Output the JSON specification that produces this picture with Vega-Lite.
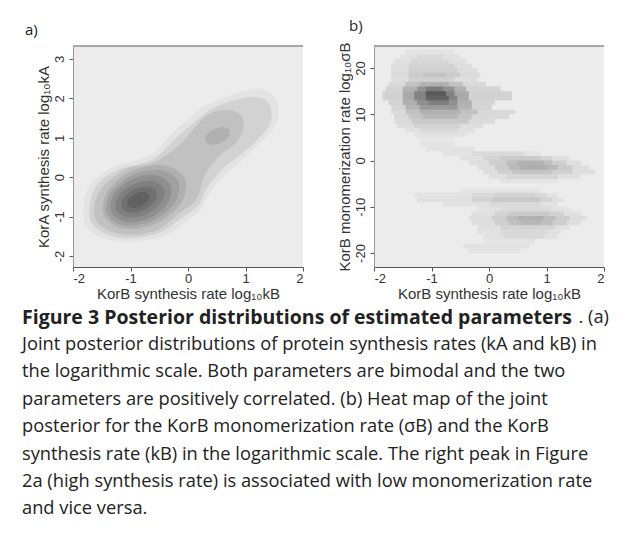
{
  "$schema": "https://vega.github.io/schema/vega-lite/v6.json",
  "padding": {"left": 22, "top": 19, "right": 5, "bottom": 5},
  "background": "white",
  "config": {
    "view": {"fill": "#ececec", "stroke": null},
    "font": "Liberation Sans",
    "axis": {"labelFont": "Liberation Sans", "titleFont": "Liberation Sans", "labelFontSize": 13, "titleFontSize": 15, "labelColor": "#333333", "titleColor": "#333333", "tickColor": "#555555", "domain": true, "domainColor": "#555555", "grid": false, "tickSize": 4, "labelPadding": 1, "titleFontWeight": "normal", "titlePadding": 1, "labelExpr": "'' + datum.value"},
    "axisY": {"labelAngle": -90, "labelPadding": 3, "domainColor": "#999999", "titlePadding": 2},
    "title": {"font": "Open Sans", "fontSize": 15, "fontWeight": "normal", "anchor": "start", "color": "#222222", "frame": "group", "baseline": "alphabetic", "offset": 8}
  },
  "datasets": {
    "contours": [
      {"p":"L1","lev":1,"o":1,"x":-0.517,"y":-1.543},{"p":"L1","lev":1,"o":2,"x":-1.284,"y":-1.619},{"p":"L1","lev":1,"o":3,"x":-1.791,"y":-1.213},{"p":"L1","lev":1,"o":4,"x":-1.738,"y":-0.299},{"p":"L1","lev":1,"o":5,"x":-1.337,"y":0.234},{"p":"L1","lev":1,"o":6,"x":-0.656,"y":0.563},{"p":"L1","lev":1,"o":7,"x":-0.255,"y":1.147},{"p":"L1","lev":1,"o":8,"x":0.269,"y":1.782},{"p":"L1","lev":1,"o":9,"x":0.792,"y":2.112},{"p":"L1","lev":1,"o":10,"x":1.264,"y":2.239},{"p":"L1","lev":1,"o":11,"x":1.543,"y":1.909},{"p":"L1","lev":1,"o":12,"x":1.525,"y":1.325},{"p":"L1","lev":1,"o":13,"x":1.141,"y":0.716},{"p":"L1","lev":1,"o":14,"x":0.67,"y":0.081},{"p":"L1","lev":1,"o":15,"x":0.391,"y":-0.376},{"p":"L1","lev":1,"o":16,"x":0.216,"y":-0.832},{"p":"L1","lev":1,"o":17,"x":-0.08,"y":-1.188},
      {"p":"L2","lev":2,"o":1,"x":-0.551,"y":-1.442},{"p":"L2","lev":2,"o":2,"x":-1.232,"y":-1.53},{"p":"L2","lev":2,"o":3,"x":-1.686,"y":-1.137},{"p":"L2","lev":2,"o":4,"x":-1.634,"y":-0.325},{"p":"L2","lev":2,"o":5,"x":-1.267,"y":0.157},{"p":"L2","lev":2,"o":6,"x":-0.604,"y":0.462},{"p":"L2","lev":2,"o":7,"x":-0.133,"y":1.096},{"p":"L2","lev":2,"o":8,"x":0.391,"y":1.706},{"p":"L2","lev":2,"o":9,"x":0.88,"y":1.985},{"p":"L2","lev":2,"o":10,"x":1.264,"y":2.01},{"p":"L2","lev":2,"o":11,"x":1.438,"y":1.756},{"p":"L2","lev":2,"o":12,"x":1.403,"y":1.299},{"p":"L2","lev":2,"o":13,"x":1.054,"y":0.741},{"p":"L2","lev":2,"o":14,"x":0.618,"y":0.234},{"p":"L2","lev":2,"o":15,"x":0.339,"y":-0.249},{"p":"L2","lev":2,"o":16,"x":0.182,"y":-0.706},{"p":"L2","lev":2,"o":17,"x":-0.133,"y":-1.061},
      {"p":"L3","lev":3,"o":1,"x":-0.569,"y":-1.365},{"p":"L3","lev":3,"o":2,"x":-1.18,"y":-1.442},{"p":"L3","lev":3,"o":3,"x":-1.599,"y":-1.086},{"p":"L3","lev":3,"o":4,"x":-1.546,"y":-0.376},{"p":"L3","lev":3,"o":5,"x":-1.075,"y":0.208},{"p":"L3","lev":3,"o":6,"x":-0.569,"y":0.386},{"p":"L3","lev":3,"o":7,"x":-0.133,"y":0.843},{"p":"L3","lev":3,"o":8,"x":0.129,"y":1.274},{"p":"L3","lev":3,"o":9,"x":0.339,"y":1.579},{"p":"L3","lev":3,"o":10,"x":0.635,"y":1.706},{"p":"L3","lev":3,"o":11,"x":0.897,"y":1.604},{"p":"L3","lev":3,"o":12,"x":0.967,"y":1.274},{"p":"L3","lev":3,"o":13,"x":0.827,"y":0.868},{"p":"L3","lev":3,"o":14,"x":0.565,"y":0.563},{"p":"L3","lev":3,"o":15,"x":0.304,"y":0.081},{"p":"L3","lev":3,"o":16,"x":0.147,"y":-0.553},{"p":"L3","lev":3,"o":17,"x":-0.168,"y":-0.934},
      {"p":"L4a","lev":4,"o":1,"x":-0.058,"y":-0.029},{"p":"L4a","lev":4,"o":2,"x":-0.111,"y":-0.639},{"p":"L4a","lev":4,"o":3,"x":-0.543,"y":-1.168},{"p":"L4a","lev":4,"o":4,"x":-1.099,"y":-1.309},{"p":"L4a","lev":4,"o":5,"x":-1.454,"y":-0.977},{"p":"L4a","lev":4,"o":6,"x":-1.401,"y":-0.367},{"p":"L4a","lev":4,"o":7,"x":-0.969,"y":0.162},{"p":"L4a","lev":4,"o":8,"x":-0.413,"y":0.303},
      {"p":"L4b","lev":4,"o":1,"x":0.723,"y":1.189},{"p":"L4b","lev":4,"o":2,"x":0.702,"y":1.021},{"p":"L4b","lev":4,"o":3,"x":0.57,"y":0.868},{"p":"L4b","lev":4,"o":4,"x":0.404,"y":0.819},{"p":"L4b","lev":4,"o":5,"x":0.303,"y":0.903},{"p":"L4b","lev":4,"o":6,"x":0.324,"y":1.071},{"p":"L4b","lev":4,"o":7,"x":0.456,"y":1.224},{"p":"L4b","lev":4,"o":8,"x":0.622,"y":1.273},
      {"p":"L5","lev":5,"o":1,"x":-0.172,"y":-0.107},{"p":"L5","lev":5,"o":2,"x":-0.222,"y":-0.637},{"p":"L5","lev":5,"o":3,"x":-0.602,"y":-1.101},{"p":"L5","lev":5,"o":4,"x":-1.091,"y":-1.228},{"p":"L5","lev":5,"o":5,"x":-1.402,"y":-0.943},{"p":"L5","lev":5,"o":6,"x":-1.352,"y":-0.413},{"p":"L5","lev":5,"o":7,"x":-0.972,"y":0.051},{"p":"L5","lev":5,"o":8,"x":-0.483,"y":0.178},
      {"p":"L6","lev":6,"o":1,"x":-0.309,"y":-0.2},{"p":"L6","lev":6,"o":2,"x":-0.346,"y":-0.65},{"p":"L6","lev":6,"o":3,"x":-0.66,"y":-1.038},{"p":"L6","lev":6,"o":4,"x":-1.067,"y":-1.139},{"p":"L6","lev":6,"o":5,"x":-1.327,"y":-0.892},{"p":"L6","lev":6,"o":6,"x":-1.29,"y":-0.442},{"p":"L6","lev":6,"o":7,"x":-0.976,"y":-0.054},{"p":"L6","lev":6,"o":8,"x":-0.569,"y":0.047},
      {"p":"L7","lev":7,"o":1,"x":-0.42,"y":-0.276},{"p":"L7","lev":7,"o":2,"x":-0.456,"y":-0.624},{"p":"L7","lev":7,"o":3,"x":-0.714,"y":-0.932},{"p":"L7","lev":7,"o":4,"x":-1.042,"y":-1.022},{"p":"L7","lev":7,"o":5,"x":-1.248,"y":-0.838},{"p":"L7","lev":7,"o":6,"x":-1.212,"y":-0.49},{"p":"L7","lev":7,"o":7,"x":-0.955,"y":-0.182},{"p":"L7","lev":7,"o":8,"x":-0.626,"y":-0.092},
      {"p":"L8","lev":8,"o":1,"x":-0.55,"y":-0.365},{"p":"L8","lev":8,"o":2,"x":-0.577,"y":-0.614},{"p":"L8","lev":8,"o":3,"x":-0.764,"y":-0.837},{"p":"L8","lev":8,"o":4,"x":-1.001,"y":-0.902},{"p":"L8","lev":8,"o":5,"x":-1.15,"y":-0.773},{"p":"L8","lev":8,"o":6,"x":-1.123,"y":-0.524},{"p":"L8","lev":8,"o":7,"x":-0.936,"y":-0.301},{"p":"L8","lev":8,"o":8,"x":-0.699,"y":-0.236},
      {"p":"L9","lev":9,"o":1,"x":-0.681,"y":-0.453},{"p":"L9","lev":9,"o":2,"x":-0.699,"y":-0.602},{"p":"L9","lev":9,"o":3,"x":-0.815,"y":-0.738},{"p":"L9","lev":9,"o":4,"x":-0.961,"y":-0.78},{"p":"L9","lev":9,"o":5,"x":-1.051,"y":-0.705},{"p":"L9","lev":9,"o":6,"x":-1.033,"y":-0.556},{"p":"L9","lev":9,"o":7,"x":-0.917,"y":-0.42},{"p":"L9","lev":9,"o":8,"x":-0.771,"y":-0.378}
    ],
    "heat": [
      {"y1":23,"y2":24,"x1":-1.45,"x2":-0.6,"d":0.035},
      {"y1":22,"y2":23,"x1":-1.55,"x2":-0.5,"d":0.04},{"y1":22,"y2":23,"x1":-1.25,"x2":-0.8,"d":0.03},
      {"y1":21,"y2":22,"x1":-1.65,"x2":-0.4,"d":0.05},{"y1":21,"y2":22,"x1":-1.35,"x2":-0.7,"d":0.04},
      {"y1":20,"y2":21,"x1":-1.7,"x2":-0.3,"d":0.06},{"y1":20,"y2":21,"x1":-1.4,"x2":-0.6,"d":0.05},
      {"y1":19,"y2":20,"x1":-1.7,"x2":-0.2,"d":0.06},{"y1":19,"y2":20,"x1":-1.4,"x2":-0.55,"d":0.06},
      {"y1":18,"y2":19,"x1":-1.7,"x2":-0.15,"d":0.07},{"y1":18,"y2":19,"x1":-1.4,"x2":-0.5,"d":0.07},{"y1":18,"y2":19,"x1":-1.15,"x2":-0.75,"d":0.04},
      {"y1":17,"y2":18,"x1":-1.7,"x2":-0.2,"d":0.06},{"y1":17,"y2":18,"x1":-1.4,"x2":-0.6,"d":0.06},
      {"y1":16,"y2":17,"x1":-1.75,"x2":-0.05,"d":0.08},{"y1":16,"y2":17,"x1":-1.45,"x2":-0.45,"d":0.1},{"y1":16,"y2":17,"x1":-1.2,"x2":-0.7,"d":0.08},
      {"y1":15,"y2":16,"x1":-1.8,"x2":0.2,"d":0.1},{"y1":15,"y2":16,"x1":-1.5,"x2":-0.4,"d":0.16},{"y1":15,"y2":16,"x1":-1.25,"x2":-0.6,"d":0.18},{"y1":15,"y2":16,"x1":-1.1,"x2":-0.8,"d":0.15},
      {"y1":14,"y2":15,"x1":-1.85,"x2":0.4,"d":0.11},{"y1":14,"y2":15,"x1":-1.5,"x2":-0.35,"d":0.19},{"y1":14,"y2":15,"x1":-1.3,"x2":-0.6,"d":0.235},{"y1":14,"y2":15,"x1":-1.1,"x2":-0.75,"d":0.31},
      {"y1":13,"y2":14,"x1":-1.85,"x2":0.4,"d":0.11},{"y1":13,"y2":14,"x1":-1.5,"x2":-0.35,"d":0.19},{"y1":13,"y2":14,"x1":-1.3,"x2":-0.55,"d":0.22},{"y1":13,"y2":14,"x1":-1.1,"x2":-0.7,"d":0.25},
      {"y1":12,"y2":13,"x1":-1.75,"x2":0.1,"d":0.1},{"y1":12,"y2":13,"x1":-1.5,"x2":-0.3,"d":0.17},{"y1":12,"y2":13,"x1":-1.25,"x2":-0.55,"d":0.18},{"y1":12,"y2":13,"x1":-1.05,"x2":-0.7,"d":0.12},
      {"y1":11,"y2":12,"x1":-1.7,"x2":0.05,"d":0.1},{"y1":11,"y2":12,"x1":-1.45,"x2":-0.3,"d":0.15},{"y1":11,"y2":12,"x1":-1.2,"x2":-0.55,"d":0.15},
      {"y1":10,"y2":11,"x1":-1.7,"x2":0.45,"d":0.08},{"y1":10,"y2":11,"x1":-1.45,"x2":-0.2,"d":0.1},{"y1":10,"y2":11,"x1":-1.2,"x2":-0.5,"d":0.08},
      {"y1":9,"y2":10,"x1":-1.65,"x2":0.35,"d":0.08},{"y1":9,"y2":10,"x1":-1.4,"x2":-0.3,"d":0.09},{"y1":9,"y2":10,"x1":-1.15,"x2":-0.55,"d":0.06},
      {"y1":8,"y2":9,"x1":-1.65,"x2":0.1,"d":0.07},{"y1":8,"y2":9,"x1":-1.35,"x2":-0.35,"d":0.08},
      {"y1":7,"y2":8,"x1":-1.6,"x2":-0.1,"d":0.06},{"y1":7,"y2":8,"x1":-1.3,"x2":-0.5,"d":0.05},
      {"y1":6,"y2":7,"x1":-1.45,"x2":-0.25,"d":0.05},{"y1":6,"y2":7,"x1":-1.2,"x2":-0.55,"d":0.03},
      {"y1":5,"y2":6,"x1":-1.3,"x2":-0.4,"d":0.035},
      {"y1":4,"y2":5,"x1":-1.2,"x2":-0.6,"d":0.02},
      {"y1":3,"y2":4,"x1":-1.2,"x2":-0.6,"d":0.03},
      {"y1":2,"y2":3,"x1":-1.1,"x2":-0.25,"d":0.035},
      {"y1":1,"y2":2,"x1":-0.8,"x2":0.6,"d":0.04},{"y1":1,"y2":2,"x1":-0.3,"x2":0.9,"d":0.03},
      {"y1":0,"y2":1,"x1":-0.5,"x2":1.4,"d":0.05},{"y1":0,"y2":1,"x1":-0.1,"x2":1.1,"d":0.05},{"y1":0,"y2":1,"x1":0.2,"x2":0.9,"d":0.04},
      {"y1":-1,"y2":0,"x1":-0.35,"x2":1.6,"d":0.06},{"y1":-1,"y2":0,"x1":0.0,"x2":1.35,"d":0.07},{"y1":-1,"y2":0,"x1":0.3,"x2":1.1,"d":0.08},{"y1":-1,"y2":0,"x1":0.5,"x2":0.95,"d":0.06},
      {"y1":-2,"y2":-1,"x1":-0.2,"x2":1.75,"d":0.06},{"y1":-2,"y2":-1,"x1":0.1,"x2":1.45,"d":0.08},{"y1":-2,"y2":-1,"x1":0.35,"x2":1.2,"d":0.09},{"y1":-2,"y2":-1,"x1":0.55,"x2":1.0,"d":0.06},
      {"y1":-3,"y2":-2,"x1":-0.1,"x2":1.85,"d":0.06},{"y1":-3,"y2":-2,"x1":0.15,"x2":1.45,"d":0.06},{"y1":-3,"y2":-2,"x1":0.4,"x2":1.1,"d":0.05},
      {"y1":-4,"y2":-3,"x1":0.0,"x2":1.6,"d":0.05},{"y1":-4,"y2":-3,"x1":0.3,"x2":1.2,"d":0.04},
      {"y1":-5,"y2":-4,"x1":0.2,"x2":1.2,"d":0.03},
      {"y1":-7,"y2":-6,"x1":-0.5,"x2":0.9,"d":0.03},
      {"y1":-8,"y2":-7,"x1":-1.3,"x2":1.2,"d":0.04},{"y1":-8,"y2":-7,"x1":-0.3,"x2":1.0,"d":0.04},{"y1":-8,"y2":-7,"x1":0.1,"x2":0.8,"d":0.03},
      {"y1":-9,"y2":-8,"x1":-1.25,"x2":1.3,"d":0.05},{"y1":-9,"y2":-8,"x1":-0.3,"x2":1.1,"d":0.05},{"y1":-9,"y2":-8,"x1":0.05,"x2":0.9,"d":0.05},
      {"y1":-10,"y2":-9,"x1":-0.8,"x2":1.2,"d":0.04},{"y1":-10,"y2":-9,"x1":0.0,"x2":0.9,"d":0.03},
      {"y1":-11,"y2":-10,"x1":-0.2,"x2":1.4,"d":0.04},{"y1":-11,"y2":-10,"x1":0.2,"x2":1.1,"d":0.03},
      {"y1":-12,"y2":-11,"x1":-0.3,"x2":1.6,"d":0.05},{"y1":-12,"y2":-11,"x1":0.1,"x2":1.3,"d":0.06},{"y1":-12,"y2":-11,"x1":0.35,"x2":1.05,"d":0.04},
      {"y1":-13,"y2":-12,"x1":-0.35,"x2":1.7,"d":0.06},{"y1":-13,"y2":-12,"x1":0.05,"x2":1.4,"d":0.07},{"y1":-13,"y2":-12,"x1":0.3,"x2":1.15,"d":0.08},{"y1":-13,"y2":-12,"x1":0.5,"x2":0.95,"d":0.06},
      {"y1":-14,"y2":-13,"x1":-0.3,"x2":1.6,"d":0.06},{"y1":-14,"y2":-13,"x1":0.1,"x2":1.35,"d":0.07},{"y1":-14,"y2":-13,"x1":0.35,"x2":1.1,"d":0.07},{"y1":-14,"y2":-13,"x1":0.55,"x2":0.9,"d":0.04},
      {"y1":-15,"y2":-14,"x1":-0.2,"x2":1.4,"d":0.05},{"y1":-15,"y2":-14,"x1":0.2,"x2":1.15,"d":0.05},
      {"y1":-16,"y2":-15,"x1":-0.2,"x2":1.25,"d":0.045},{"y1":-16,"y2":-15,"x1":0.2,"x2":1.0,"d":0.03},
      {"y1":-17,"y2":-16,"x1":-0.1,"x2":1.2,"d":0.045},{"y1":-17,"y2":-16,"x1":0.25,"x2":0.95,"d":0.03},
      {"y1":-18,"y2":-17,"x1":-0.1,"x2":0.8,"d":0.03},
      {"y1":-19,"y2":-18,"x1":-0.45,"x2":0.7,"d":0.04},
      {"y1":-20,"y2":-19,"x1":-0.35,"x2":0.55,"d":0.035}
    ],
    "caption": [
      {"line":1,"seg":"bold","t":"Figure 3 Posterior distributions of estimated parameters"},
      {"line":1,"seg":"tail","t":". (a)"},
      {"line":2,"seg":"norm","t":"Joint posterior distributions of protein synthesis rates (kA and kB) in"},
      {"line":3,"seg":"norm","t":"the logarithmic scale. Both parameters are bimodal and the two"},
      {"line":4,"seg":"norm","t":"parameters are positively correlated. (b) Heat map of the joint"},
      {"line":5,"seg":"norm","t":"posterior for the KorB monomerization rate (σB) and the KorB"},
      {"line":6,"seg":"norm","t":"synthesis rate (kB) in the logarithmic scale. The right peak in Figure"},
      {"line":7,"seg":"norm","t":"2a (high synthesis rate) is associated with low monomerization rate"},
      {"line":8,"seg":"norm","t":"and vice versa."}
    ]
  },
  "concat": [
    {
      "width": 230, "height": 221,
      "title": {"text": "a)", "dx": -48},
      "data": {"name": "contours"},
      "layer": [
        {
          "mark": {"type": "line", "interpolate": "cardinal-closed", "strokeWidth": 0},
          "encoding": {
            "x": {"field": "x", "type": "quantitative", "scale": {"domain": [-2, 2], "nice": false}, "axis": {"values": [-2, -1, 0, 1, 2], "title": "KorB synthesis rate log₁₀kB"}},
            "y": {"field": "y", "type": "quantitative", "scale": {"domain": [-2.28, 3.33], "nice": false, "zero": false}, "axis": {"values": [-2, -1, 0, 1, 2, 3], "title": "KorA synthesis rate log₁₀kA"}},
            "detail": {"field": "p"},
            "order": {"field": "o", "type": "quantitative"},
            "fill": {"field": "lev", "type": "quantitative", "scale": {"domain": [1, 9], "range": ["#e3e3e3", "#616161"]}, "legend": null}
          }
        },
        {"mark": {"type": "rule", "color": "#a8a8a8", "strokeWidth": 1}, "encoding": {"y": {"datum": 3.33}}}
      ]
    },
    {
      "width": 230, "height": 221,
      "title": {"text": "b)", "dx": -25},
      "data": {"name": "heat"},
      "layer": [
        {
          "mark": {"type": "rect", "fill": "#000000", "strokeWidth": 0},
          "encoding": {
            "x": {"field": "x1", "type": "quantitative", "scale": {"domain": [-2, 2], "nice": false}, "axis": {"values": [-2, -1, 0, 1, 2], "title": "KorB synthesis rate log₁₀kB"}},
            "x2": {"field": "x2"},
            "y": {"field": "y1", "type": "quantitative", "scale": {"domain": [-23.03, 24.76], "nice": false, "zero": false}, "axis": {"values": [-20, -10, 0, 10, 20], "title": "KorB monomerization rate log₁₀σB"}},
            "y2": {"field": "y2"},
            "opacity": {"field": "d", "type": "quantitative", "scale": {"domain": [0, 1], "range": [0, 1]}, "legend": null}
          }
        },
        {"mark": {"type": "rule", "color": "#a8a8a8", "strokeWidth": 1}, "encoding": {"y": {"datum": 24.76}}}
      ]
    },
    {
      "width": 230, "height": 219,
      "view": {"fill": null, "stroke": null},
      "data": {"name": "caption"},
      "encoding": {
        "y": {"field": "line", "type": "ordinal", "axis": null, "scale": {"paddingInner": 0, "paddingOuter": 0}},
        "x": {"datum": 0, "type": "quantitative", "scale": {"domain": [0, 1]}, "axis": null}
      },
      "layer": [
        {
          "transform": [{"filter": "datum.seg == 'bold'"}],
          "mark": {"type": "text", "align": "left", "baseline": "middle", "font": "Open Sans", "fontSize": 19.5, "fontWeight": "bold", "dx": -51, "color": "#222222"},
          "encoding": {"text": {"field": "t"}}
        },
        {
          "transform": [{"filter": "datum.seg == 'tail'"}],
          "mark": {"type": "text", "align": "right", "baseline": "middle", "font": "Open Sans", "fontSize": 18.3, "dx": 536, "color": "#222222"},
          "encoding": {"text": {"field": "t"}}
        },
        {
          "transform": [{"filter": "datum.seg == 'norm'"}],
          "mark": {"type": "text", "align": "left", "baseline": "middle", "font": "Open Sans", "fontSize": 18.3, "dx": -51, "color": "#222222"},
          "encoding": {"text": {"field": "t"}}
        }
      ]
    }
  ],
  "columns": 2,
  "spacing": {"row": 37, "column": 71},
  "bounds": "flush"
}
